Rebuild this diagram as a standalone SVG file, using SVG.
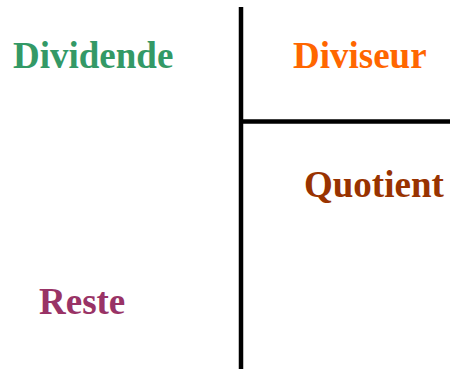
<svg xmlns="http://www.w3.org/2000/svg" width="450" height="369" viewBox="0 0 450 369">
<style>
text{font-family:"Liberation Serif","Times New Roman",serif;font-weight:bold;font-size:37px}
.ln{stroke:#000;stroke-width:4.5;fill:none}
</style>
<rect width="450" height="369" fill="#fff"/>
<g id="connectors">
<line class="ln" x1="241" y1="7" x2="241" y2="369"/>
<line class="ln" x1="241" y1="121.5" x2="450" y2="121.5"/>
</g>
<g id="dividende"><text x="13" y="68" fill="#339966">Dividende</text></g>
<g id="diviseur"><text x="293" y="68" fill="#FF6600">Diviseur</text></g>
<g id="quotient"><text x="304" y="197" fill="#993300">Quotient</text></g>
<g id="reste"><text x="39" y="314" fill="#993366">Reste</text></g>
</svg>
